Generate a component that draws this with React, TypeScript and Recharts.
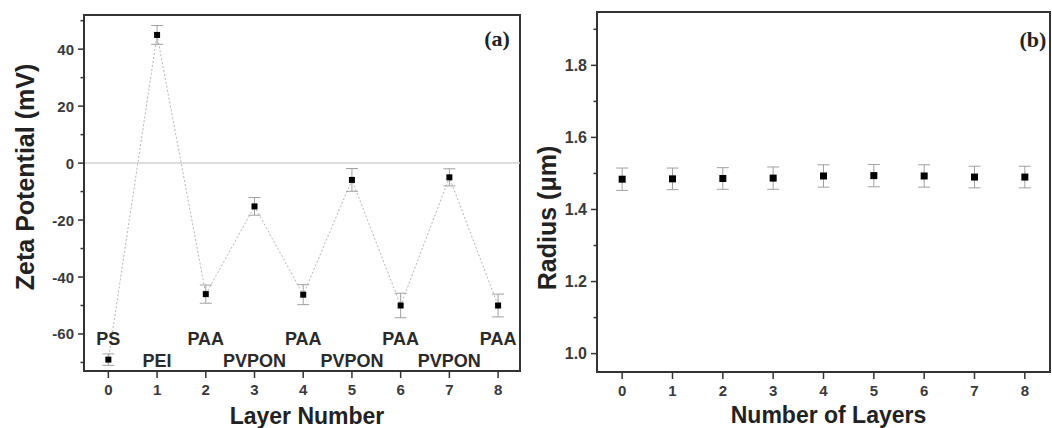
import {
  ComposedChart,
  Scatter,
  Line,
  XAxis,
  YAxis,
  ErrorBar,
  ReferenceLine,
  ReferenceArea,
  LabelList,
} from "recharts";

// layer index shared by both panels
const layers = [0, 1, 2, 3, 4, 5, 6, 7, 8];

// (a) zeta potential per layer, mV
const zeta = [-69, 45, -46, -15.2, -46.2, -5.9, -50, -5, -50];
const zetaErr = [2, 3.3, 3.2, 3.1, 3.5, 4, 4.3, 3, 4];
const coatings = ["PS", "PEI", "PAA", "PVPON", "PAA", "PVPON", "PAA", "PVPON", "PAA"];

// (b) particle radius per layer, um
const radius = [1.484, 1.485, 1.486, 1.487, 1.493, 1.494, 1.493, 1.49, 1.49];
const radiusErr = [0.031, 0.03, 0.03, 0.031, 0.031, 0.031, 0.031, 0.03, 0.03];

const zetaMajor = [-60, -40, -20, 0, 20, 40];
const zetaMinor = [-70, -50, -30, -10, 10, 30, 50];
const radiusMajor = [1.0, 1.2, 1.4, 1.6, 1.8];
const radiusMinor = [1.1, 1.3, 1.5, 1.7, 1.9];

const xDomainA: [number, number] = [-0.5, 8.45];
const yDomainA: [number, number] = [-73, 52];
const xDomainB: [number, number] = [-0.5, 8.5];
const yDomainB: [number, number] = [0.949, 1.948];

const zetaData = layers.map((l, i) => ({
  layer: l,
  zeta: zeta[i],
  err: zetaErr[i],
  coating: coatings[i],
}));
const radiusData = layers.map((l, i) => ({
  layer: l,
  radius: radius[i],
  err: radiusErr[i],
}));

const FONT = "'Liberation Sans', Arial, sans-serif";
const INK = "#222";
const TICK_INK = "#3a3a3a";
const FRAME = "#333";
const TICK_SIZE = 6;
const TICK_MARGIN = 4;

const isMajor = (list: number[], v: number) => list.some((m) => Math.abs(m - v) < 1e-6);

function makeYTick(major: number[], fmt: (v: number) => string, fontSize: number) {
  return (props: any) => {
    const { x, y, payload } = props;
    const axisX = x + TICK_SIZE + TICK_MARGIN;
    const big = isMajor(major, payload.value);
    return (
      <g>
        <line x1={axisX - (big ? 6 : 3.5)} x2={axisX} y1={y} y2={y} stroke={FRAME} strokeWidth={1.5} />
        {big && (
          <text x={x} y={y} textAnchor="end" dominantBaseline="central" fontSize={fontSize} fontWeight="bold" fontFamily={FONT} fill={TICK_INK}>
            {fmt(payload.value)}
          </text>
        )}
      </g>
    );
  };
}

function yTitle(text: string, dx: number, dy: number) {
  return (props: any) => {
    const vb = props.viewBox;
    const cx = vb.x + dx;
    const cy = vb.y + vb.height / 2 + dy;
    return (
      <text
        x={cx}
        y={cy}
        transform={`rotate(-90, ${cx}, ${cy})`}
        textAnchor="middle"
        dominantBaseline="central"
        fontSize={25}
        fontWeight="bold"
        fontFamily={FONT}
        fill={INK}
      >
        {text}
      </text>
    );
  };
}

function xTitle(text: string, dx: number, dy: number) {
  return (props: any) => {
    const vb = props.viewBox;
    return (
      <text
        x={vb.x + vb.width / 2 + dx}
        y={vb.y + dy}
        textAnchor="middle"
        dominantBaseline="central"
        fontSize={23}
        fontWeight="bold"
        fontFamily={FONT}
        fill={INK}
      >
        {text}
      </text>
    );
  };
}

const square = (s: number) => (props: any) => (
  <rect x={props.cx - s / 2} y={props.cy - s / 2} width={s} height={s} fill="#000" />
);

const PLOT_BOTTOM = 371;

const coatingLabel = (props: any) => {
  const { value, index } = props;
  const px = (props.viewBox?.x ?? props.x) + (props.viewBox?.width ?? props.width ?? 0) / 2;
  const py = index % 2 === 0 ? PLOT_BOTTOM - 32 : PLOT_BOTTOM - 10;
  return (
    <text x={px} y={py} textAnchor="middle" dominantBaseline="central" fontSize={18} fontWeight="bold" fontFamily={FONT} fill="#2a2a2a">
      {value}
    </text>
  );
};

const xTick = { fontSize: 15, fontWeight: "bold", fontFamily: FONT, fill: TICK_INK };
const frameLine = { stroke: FRAME, strokeWidth: 2 };

function PanelTag({ x, y, text }: { x: number; y: number; text: string }) {
  return (
    <text x={x} y={y} textAnchor="middle" dominantBaseline="central" fontSize={22} fontWeight="bold" fontFamily="'Liberation Serif', 'Times New Roman', serif" fill={INK}>
      {text}
    </text>
  );
}

export default function App() {
  return (
    <div style={{ position: "absolute", left: 0, top: 0, width: 1052, height: 428, display: "flex", background: "#fff" }}>
      <ComposedChart width={524} height={428} data={zetaData} margin={{ top: 15, right: 4, bottom: 0, left: 0 }}>
        <XAxis
          type="number"
          dataKey="layer"
          domain={xDomainA}
          ticks={layers}
          height={57}
          axisLine={frameLine}
          tickSize={7}
          tickMargin={6}
          tickLine={{ stroke: FRAME, strokeWidth: 1.5 }}
          tick={xTick}
          label={{ content: xTitle("Layer Number", 5, 45) }}
        />
        <YAxis
          type="number"
          domain={yDomainA}
          ticks={[...zetaMinor, ...zetaMajor].sort((a, b) => a - b)}
          width={84}
          axisLine={frameLine}
          tickLine={false}
          tickSize={TICK_SIZE}
          tickMargin={TICK_MARGIN}
          tick={makeYTick(zetaMajor, (v) => String(v), 15)}
          label={{ content: yTitle("Zeta Potential (mV)", 25, -16) }}
        />
        <ReferenceLine y={0} stroke="#d0d0d0" strokeWidth={1.5} />
        <Line
          dataKey="zeta"
          stroke="#b5b5b5"
          strokeWidth={1}
          strokeDasharray="2 2"
          dot={false}
          isAnimationActive={false}
        >
          <LabelList dataKey="coating" content={coatingLabel} />
        </Line>
        <Scatter dataKey="zeta" shape={square(6)} isAnimationActive={false}>
          <ErrorBar dataKey="err" direction="y" width={6} stroke="#a0a0a0" strokeWidth={1} />
        </Scatter>
        <ReferenceArea
          x1={xDomainA[0]}
          x2={xDomainA[1]}
          y1={yDomainA[0]}
          y2={yDomainA[1]}
          fill="none"
          fillOpacity={0}
          stroke={FRAME}
          strokeWidth={2}
          ifOverflow="visible"
        />
      </ComposedChart>

      <ComposedChart width={528} height={428} data={radiusData} margin={{ top: 12, right: 2, bottom: 0, left: 0 }}>
        <XAxis
          type="number"
          dataKey="layer"
          domain={xDomainB}
          ticks={layers}
          height={56}
          axisLine={frameLine}
          tickSize={7}
          tickMargin={6}
          tickLine={{ stroke: FRAME, strokeWidth: 1.5 }}
          tick={xTick}
          label={{ content: xTitle("Number of Layers", 5, 43) }}
        />
        <YAxis
          type="number"
          domain={yDomainB}
          ticks={[...radiusMinor, ...radiusMajor].sort((a, b) => a - b)}
          width={73}
          axisLine={frameLine}
          tickLine={false}
          tickSize={TICK_SIZE}
          tickMargin={TICK_MARGIN}
          tick={makeYTick(radiusMajor, (v) => v.toFixed(1), 16)}
          label={{ content: yTitle("Radius (\u03bcm)", 23, 26) }}
        />
        <Scatter dataKey="radius" shape={square(7)} isAnimationActive={false}>
          <ErrorBar dataKey="err" direction="y" width={6} stroke="#a0a0a0" strokeWidth={1} />
        </Scatter>
        <ReferenceArea
          x1={xDomainB[0]}
          x2={xDomainB[1]}
          y1={yDomainB[0]}
          y2={yDomainB[1]}
          fill="none"
          fillOpacity={0}
          stroke={FRAME}
          strokeWidth={2}
          ifOverflow="visible"
        />
      </ComposedChart>

      <svg width={1052} height={428} style={{ position: "absolute", left: 0, top: 0, pointerEvents: "none" }}>
        <PanelTag x={497} y={38} text="(a)" />
        <PanelTag x={1033} y={39} text="(b)" />
      </svg>
    </div>
  );
}
